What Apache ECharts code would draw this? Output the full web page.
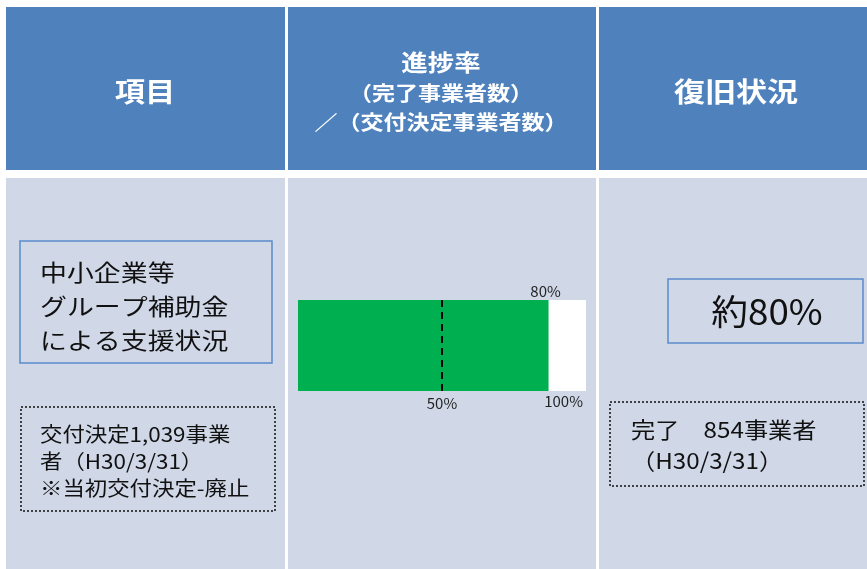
<!DOCTYPE html>
<html><head><meta charset="utf-8">
<script src="https://cdn.jsdelivr.net/npm/echarts@6/dist/echarts.min.js"></script>
<style>html,body{margin:0;padding:0;background:#fff}#c{width:867px;height:569px}</style>
</head><body><div id="c"></div>
<script>
// ---- data ----
const headers = ['項目', '進捗率', '復旧状況'];
const headerSub = ['（完了事業者数）', '／（交付決定事業者数）'];
const itemLines = ['中小企業等', 'グループ補助金', 'による支援状況'];
const grantLines = ['交付決定1,039事業', '者（H30/3/31）', '※当初交付決定-廃止'];
const statusMain = '約80%';
const statusLines = ['完了　854事業者', '（H30/3/31）'];
const categories = ['進捗率'];
const totalValues = [100];       // white full bar (100%)
const doneValues = [87];         // green bar as drawn
const doneLabel = '80%';
const totalLabel = '100%';
const refLineValue = 50;
const refLineLabel = '50%';

const FONT = '"Noto Sans CJK JP", "Noto Sans", sans-serif';
const HEAD = '#4F81BD', BODY = '#D0D8E8', BOXB = '#5A8ACB';

const g = [];
const cols = [[6, 285], [288, 596], [599, 867]];
cols.forEach(([x0, x1]) => {
  g.push({type: 'rect', z: -10, shape: {x: x0, y: 7, width: x1 - x0, height: 163}, style: {fill: HEAD}});
  g.push({type: 'rect', z: -10, shape: {x: x0, y: 178, width: x1 - x0, height: 400}, style: {fill: BODY}});
});
function txt(t, x, y, font, color, align, sx) {
  g.push({type: 'text', z: 10, x, y, scaleX: sx, style: {text: t, fill: color, font: font, textAlign: align, textVerticalAlign: 'middle'}});
}
const hb = s => 'bold ' + s + 'px ' + FONT;
const nf = s => s + 'px ' + FONT;
txt(headers[0], 145, 92, hb(27), '#fff', 'center', 1.12);
txt(headers[1], 441, 62, hb(23), '#fff', 'center', 1.15);
txt(headerSub[0], 441, 93, hb(20), '#fff', 'center', 1.15);
txt(headerSub[1], 441, 122, hb(20), '#fff', 'center', 1.15);
txt(headers[2], 736, 92, hb(27), '#fff', 'center', 1.15);

// left boxes
g.push({type: 'rect', z: 5, shape: {x: 20, y: 241, width: 252, height: 122}, style: {fill: 'none', stroke: BOXB, lineWidth: 1.5}});
itemLines.forEach((t, i) => txt(t, 40, 272 + i * 34, nf(23), '#111', 'left', 1.17));
g.push({type: 'rect', z: 5, shape: {x: 21, y: 407, width: 254, height: 104}, style: {fill: 'none', stroke: '#111', lineWidth: 1.5, lineDash: [2, 2]}});
grantLines.forEach((t, i) => txt(t, 40, 434 + i * 27, nf(20), '#111', 'left', 1.12));

// right boxes
g.push({type: 'rect', z: 5, shape: {x: 668, y: 279, width: 195, height: 64}, style: {fill: 'none', stroke: BOXB, lineWidth: 1.5}});
txt(statusMain, 767, 312, nf(35), '#111', 'center', 1.05);
g.push({type: 'rect', z: 5, shape: {x: 610, y: 402, width: 254, height: 84}, style: {fill: 'none', stroke: '#111', lineWidth: 1.5, lineDash: [2, 2]}});
statusLines.forEach((t, i) => txt(t, 631, 430 + i * 31, nf(22), '#111', 'left', 1.1));

const chart = echarts.init(document.getElementById('c'), null, {renderer: 'canvas'});
chart.setOption({
  animation: false,
  graphic: {elements: g},
  grid: {left: 298, right: 281, top: 300, height: 91},
  xAxis: {type: 'value', min: 0, max: 100, show: false},
  yAxis: {type: 'category', data: categories, show: false},
  series: [
    {type: 'bar', data: totalValues, barWidth: '100%', barGap: '-100%', silent: true,
     itemStyle: {color: '#fff'},
     label: {show: true, position: ['100%', '100%'], align: 'right', verticalAlign: 'top', offset: [-3, 3],
       formatter: () => totalLabel, color: '#222', fontSize: 15, fontFamily: FONT}},
    {type: 'bar', data: doneValues, barWidth: '100%', silent: true,
     itemStyle: {color: '#00B050'},
     label: {show: true, position: ['100%', 0], align: 'center', verticalAlign: 'bottom', offset: [-3, -1],
       formatter: () => doneLabel, color: '#222', fontSize: 15, fontFamily: FONT},
     markLine: {silent: true, symbol: 'none', animation: false,
       lineStyle: {color: '#000', type: [7, 5], width: 2},
       label: {show: true, position: 'start', formatter: () => refLineLabel, color: '#222', fontSize: 15, fontFamily: FONT},
       data: [{xAxis: refLineValue}]}}
  ]
});
</script></body></html>
